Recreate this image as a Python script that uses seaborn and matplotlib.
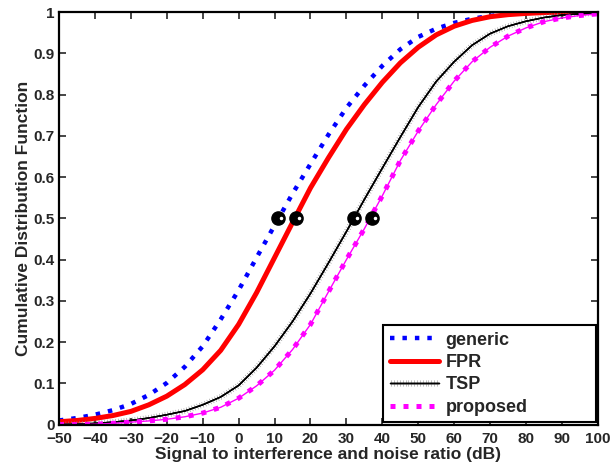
import numpy as np
import pandas as pd
import matplotlib
matplotlib.use("Agg")
import matplotlib.pyplot as plt
import matplotlib.patheffects as pe
import matplotlib.transforms as mtransforms
import seaborn as sns

# SINR grid (dB) and CDF values
sinr = list(range(-50, 101, 5))
generic = [0.010, 0.016, 0.024, 0.035, 0.050, 0.072, 0.101, 0.140, 0.190, 0.255,
           0.326, 0.405, 0.483, 0.560, 0.632, 0.703, 0.768, 0.822, 0.870, 0.910,
           0.940, 0.960, 0.974, 0.984, 0.991, 0.995, 0.998, 0.999, 1.0, 1.0, 1.0]
fpr = [0.007, 0.010, 0.015, 0.022, 0.032, 0.048, 0.069, 0.097, 0.133, 0.180,
       0.243, 0.320, 0.405, 0.490, 0.574, 0.647, 0.716, 0.776, 0.830, 0.877,
       0.915, 0.945, 0.966, 0.980, 0.989, 0.994, 0.997, 0.999, 1.0, 1.0, 1.0]
tsp = [0.000, 0.001, 0.003, 0.006, 0.010, 0.016, 0.024, 0.033, 0.048, 0.067,
       0.095, 0.138, 0.190, 0.250, 0.318, 0.392, 0.468, 0.546, 0.622, 0.697,
       0.770, 0.832, 0.880, 0.920, 0.948, 0.966, 0.978, 0.987, 0.993, 0.996, 0.998]
proposed = [0.000, 0.000, 0.001, 0.003, 0.006, 0.009, 0.013, 0.019, 0.028, 0.042,
            0.064, 0.094, 0.132, 0.182, 0.243, 0.322, 0.400, 0.475, 0.555, 0.640,
            0.712, 0.776, 0.833, 0.880, 0.915, 0.942, 0.962, 0.977, 0.986, 0.992, 0.996]

# medians (SINR at CDF = 0.5)
median_x = [11, 16, 32, 37]
median_y = [0.5, 0.5, 0.5, 0.5]

df = pd.DataFrame({"sinr": sinr, "generic": generic, "FPR": fpr,
                   "TSP": tsp, "proposed": proposed})

sns.set_style("ticks")
plt.rcParams['font.family'] = ['Liberation Sans', 'DejaVu Sans']
plt.rcParams['font.weight'] = 'bold'

fig = plt.figure(figsize=(6.12, 4.68), dpi=100)
ax = fig.add_axes([0.0964, 0.0927, 0.8806, 0.8813])

sns.lineplot(data=df, x="sinr", y="generic", ax=ax, color="#0000ff", lw=3.2,
             label="generic")
ax.lines[-1].set_dashes((1, 1.8))
ax.lines[-1].set_dash_capstyle("butt")

sns.lineplot(data=df, x="sinr", y="FPR", ax=ax, color="#ff0000", lw=3.6, label="FPR")

sns.lineplot(data=df, x="sinr", y="TSP", ax=ax, color="black", lw=1.0, label="TSP")
ax.lines[-1].set_path_effects([
    pe.withTickedStroke(angle=90, spacing=2.0, length=1.0, linewidth=0.4, foreground="0.55"),
    pe.withTickedStroke(angle=-90, spacing=2.0, length=1.0, linewidth=0.4, foreground="0.55"),
    pe.Normal()])

sns.lineplot(data=df, x="sinr", y="proposed", ax=ax, color="#ff00ff", lw=1.0, legend=False)
sns.lineplot(data=df, x="sinr", y="proposed", ax=ax, color="#ff00ff", lw=3.6,
             label="proposed")
ax.lines[-1].set_dashes((1, 1.6))
ax.lines[-1].set_dash_capstyle("butt")

ax.plot(median_x, median_y, 'o', color="black", ms=9.5, zorder=5)
hl = mtransforms.offset_copy(ax.transData, fig=fig, x=3, y=0, units='dots')
ax.plot(median_x, median_y, 'o', color="white", ms=1.5, transform=hl, zorder=6)

ax.set_xlim(-50, 100)
ax.set_ylim(0, 1)
ax.set_xticks(np.arange(-50, 101, 10))
ax.set_yticks(np.arange(0, 1.01, 0.1))
ax.set_yticklabels(["0", "0.1", "0.2", "0.3", "0.4", "0.5", "0.6", "0.7", "0.8", "0.9", "1"])
ax.tick_params(direction="in", length=5, width=1.2, top=True, right=True,
               labelsize=11)
ax.tick_params(axis="x", pad=5)
ax.tick_params(axis="y", pad=3)
for lab in ax.get_xticklabels() + ax.get_yticklabels():
    lab.set_fontweight("bold")
for s in ax.spines.values():
    s.set_linewidth(1.6)
    s.set_color("black")

ax.set_xlabel("Signal to interference and noise ratio (dB)", fontsize=12.5,
              fontweight="bold", labelpad=1)
ax.set_ylabel("Cumulative Distribution Function", fontsize=12.5,
              fontweight="bold", labelpad=2)

leg = ax.legend(loc="lower left", bbox_to_anchor=(0.602, 0.006, 0.394, 0.24),
                mode="expand", fontsize=13, handlelength=2.7, labelspacing=0.3,
                borderaxespad=0, fancybox=False, framealpha=1, edgecolor="black",
                borderpad=0.35, handletextpad=0.4)
leg.get_frame().set_linewidth(1.5)
for t in leg.get_texts():
    t.set_fontweight("bold")

fig.savefig("out.png", dpi=100)
